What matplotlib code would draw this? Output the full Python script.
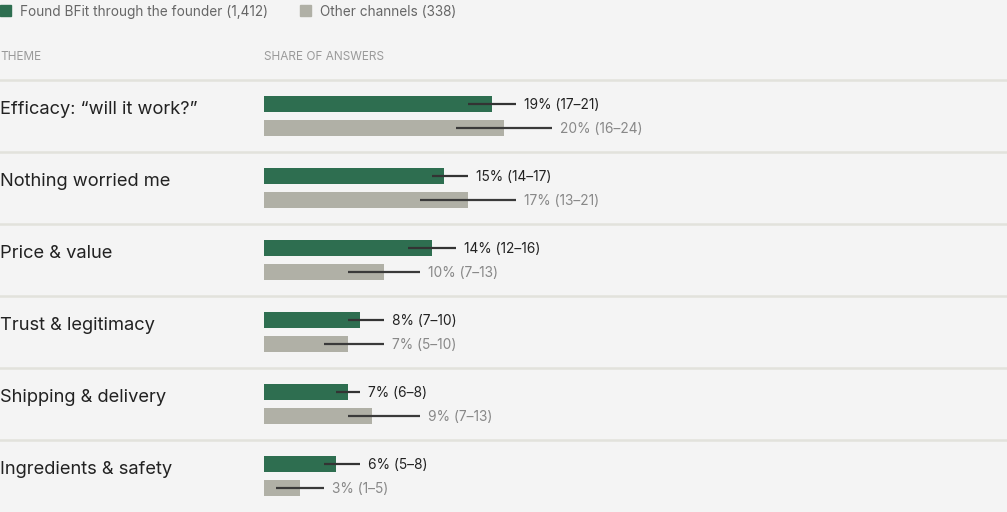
import numpy as np
import matplotlib.pyplot as plt
import matplotlib.patches as mpatches

plt.rcParams['font.family'] = ['Inter', 'DejaVu Sans']

# data
themes = ['Efficacy: \u201cwill it work?\u201d', 'Nothing worried me', 'Price & value',
          'Trust & legitimacy', 'Shipping & delivery', 'Ingredients & safety']
founder = [19, 15, 14, 8, 7, 6]
founder_lo = [17, 14, 12, 7, 6, 5]
founder_hi = [21, 17, 16, 10, 8, 8]
other = [20, 17, 10, 7, 9, 3]
other_lo = [16, 13, 7, 5, 7, 1]
other_hi = [24, 21, 13, 10, 13, 5]
legend_labels = ['Found BFit through the founder (1,412)', 'Other channels (338)']

GREEN = '#2e6e50'
GRAY = '#b0b0a6'
BG = '#f4f4f4'

W, H = 1007, 512
X0 = 264      # pixel where bars start
PPU = 12.0    # pixels per percentage point

fig = plt.figure(figsize=(W / 100, H / 100), dpi=100, facecolor=BG)
ax = fig.add_axes([0, 0, 1, 1])
ax.set_facecolor(BG)
ax.set_xlim(-X0 / PPU, (W - X0) / PPU)
ax.set_ylim(H, 0)
ax.axis('off')

def px(p):
    # pixel x -> data x
    return (p - X0) / PPU

ROW0, ROWH = 80, 72
for i in range(len(themes)):
    top = ROW0 + ROWH * i
    ax.axhline(top, color='#e2e2dc', lw=1.8, zorder=1)

y_f = np.array([ROW0 + ROWH * i + 24 for i in range(len(themes))])
y_o = y_f + 24

ax.barh(y_f, founder, left=0, height=16, color=GREEN, zorder=2)
ax.barh(y_o, other, left=0, height=16, color=GRAY, zorder=2)
ax.hlines(y_f, founder_lo, founder_hi, color='#333333', lw=1.6, zorder=3)
ax.hlines(y_o, other_lo, other_hi, color='#3a3a3a', lw=1.6, zorder=3)

for i, t in enumerate(themes):
    ax.text(px(0), y_f[i] + 9.5, t, fontsize=13.2, color='#222222', va='baseline', ha='left')
    ax.text(founder_hi[i] + 8 / PPU, y_f[i] + 4.8,
            '%d%% (%d\u2013%d)' % (founder[i], founder_lo[i], founder_hi[i]),
            fontsize=9.9, color='#222222', va='baseline', ha='left')
    ax.text(other_hi[i] + 8 / PPU, y_o[i] + 4.8,
            '%d%% (%d\u2013%d)' % (other[i], other_lo[i], other_hi[i]),
            fontsize=9.9, color='#888888', va='baseline', ha='left')

# headers
ax.text(px(0), 59.5, 'THEME', fontsize=8.5, color='#9a9a9a', va='baseline', ha='left')
ax.text(px(264), 59.5, 'SHARE OF ANSWERS', fontsize=8.5, color='#9a9a9a', va='baseline', ha='left')

# legend
for xpos, col, lab in [(0, GREEN, legend_labels[0]), (300, GRAY, legend_labels[1])]:
    ax.add_patch(mpatches.Rectangle((px(xpos), 5), 11 / PPU, 11, color=col, zorder=4))
    ax.text(px(xpos + 20), 16, lab, fontsize=9.8, color='#666666', va='baseline', ha='left')

fig.savefig('out.png', dpi=100, facecolor=BG)
